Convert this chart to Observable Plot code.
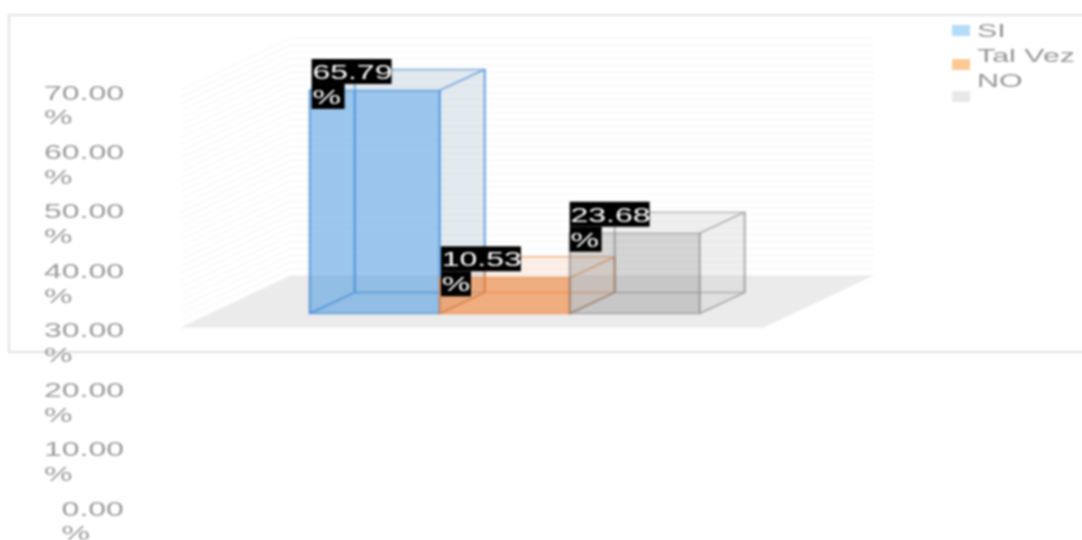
<!DOCTYPE html>
<html>
<head>
<meta charset="utf-8">
<script src="https://cdn.jsdelivr.net/npm/d3@7"></script>
<script src="https://cdn.jsdelivr.net/npm/@observablehq/plot@0.6"></script>
<style>
html,body{margin:0;padding:0;background:#fff;width:1082px;height:540px;overflow:hidden;font-family:"Liberation Sans",Arial,sans-serif}
#frame{position:absolute;left:8px;top:14px;width:1200px;height:335px;border:2px solid #e2e2e2;box-sizing:content-box}
.layer{position:absolute;left:0;top:0}
.sw{position:absolute;left:952px;width:18px;height:11px;box-sizing:border-box}
.lg{position:absolute;left:977px;font-size:19px;line-height:20px;color:#959595;transform:scaleX(1.6);transform-origin:0 50%;white-space:nowrap}
#root{position:absolute;left:0;top:0;width:1082px;height:540px;filter:blur(0.8px)}
</style>
</head>
<body>
<div id="root">
<div id="frame"></div>
<div id="chart" class="layer"></div>
<div id="axis" class="layer"></div>
<div id="legend" class="layer"></div>
</div>
<script>
const categories = ["SI", "Tal Vez", "NO"];
const values = [65.79, 10.53, 23.68];
const tickValues = [0, 10, 20, 30, 40, 50, 60, 70];
const gridValues = d3.range(0, 71, 2);
const barFront = ["rgba(50,140,220,.46)", "rgba(245,130,50,.56)", "rgba(130,130,130,.3)"];
const barStroke = ["rgba(70,140,215,.42)", "rgba(238,140,70,.38)", "rgba(130,130,130,.3)"];
const barBack = ["rgba(170,200,225,.1)", "rgba(240,160,100,.06)", "rgba(190,190,190,.1)"];
const barSide = ["rgba(190,205,215,.36)", "rgba(240,170,120,.12)", "rgba(190,190,190,.16)"];
const legendFill = ["#b4dcf8", "#fcc994", "#e8e8e8"];

const SX = 1.6;                // the whole picture is stretched horizontally
const W = 1082 / SX, H = 540;
const depthX = 0.346, depthY = 6.2;
const wall = {fx: -0.992, bx: -0.146, rfx: 3.492, rbx: 4.338, fy: -4.13, by: 11.2, top: 70.2};

const faces = [];
function face(id, fill, stroke, pts) {
  pts.concat([pts[0]]).forEach(([x, y]) => faces.push({id, fill, stroke, x, y}));
}
categories.forEach((c, i) => {
  const v = values[i], x0 = i, x1 = i + 1, dx = depthX, dy = depthY;
  const S = barStroke[i];
  face(c + "back", barBack[i], S, [[x0+dx,dy],[x1+dx,dy],[x1+dx,v+dy],[x0+dx,v+dy]]);
  face(c + "left", barBack[i], S, [[x0,0],[x0+dx,dy],[x0+dx,v+dy],[x0,v]]);
  face(c + "bottom", barBack[i], S, [[x0,0],[x1,0],[x1+dx,dy],[x0+dx,dy]]);
  face(c + "top", barSide[i], S, [[x0,v],[x1,v],[x1+dx,v+dy],[x0+dx,v+dy]]);
  face(c + "right", barSide[i], S, [[x1,0],[x1+dx,dy],[x1+dx,v+dy],[x1,v]]);
  face(c + "front", barFront[i], S, [[x0,0],[x1,0],[x1,v],[x0,v]]);
});

const floorPts = [
  {x: wall.fx, y: wall.fy}, {x: wall.rfx, y: wall.fy},
  {x: wall.rbx, y: wall.by}, {x: wall.bx, y: wall.by}, {x: wall.fx, y: wall.fy}
];
const labels = categories.map((c, i) => ({i, v: values[i]}));
const boxW = 0.615, pctW = [0.254, 0.231, 0.246];
const lh = 7.37, over = 1.77;
const labelX = [0.02, 0.015, 0.005];

const chart = Plot.plot({
  width: W, height: H, margin: 0,
  x: {domain: [0, 3], range: [309 / SX, 699 / SX], axis: null},
  y: {domain: [0, 70], range: [313, 313 - 70 * 3.39], axis: null},
  style: {background: "transparent"},
  marks: [
    // wall grid
    Plot.link(gridValues, {x1: wall.fx, x2: wall.bx, y1: d => wall.fy + d, y2: d => wall.by + d, stroke: "#f7f7f7", strokeWidth: 1}),
    Plot.link(gridValues, {x1: wall.bx, x2: wall.rbx, y1: d => wall.by + d, y2: d => wall.by + d, stroke: "#f5f5f5", strokeWidth: 1}),
    // floor
    Plot.line(floorPts, {x: "x", y: "y", fill: "#ebebeb", stroke: "none"}),
    // box faces
    Plot.line(faces, {x: "x", y: "y", z: "id", fill: "fill", stroke: "stroke", strokeWidth: 1.6, strokeLinejoin: "round"}),
    // value labels
    Plot.rect(labels, {x1: d => d.i + labelX[d.i], x2: d => d.i + labelX[d.i] + boxW, y1: d => d.v + over, y2: d => d.v + over + lh, fill: "#000"}),
    Plot.rect(labels, {x1: d => d.i + labelX[d.i], x2: d => d.i + labelX[d.i] + pctW[d.i], y1: d => d.v + over - lh, y2: d => d.v + over, fill: "#000"}),
    Plot.text(labels, {
      x: d => d.i + labelX[d.i], y: d => d.v + over, dy: -1, text: d => d.v.toFixed(2) + "\n%",
      textAnchor: "start", lineAnchor: "middle", lineHeight: 1.25,
      fontSize: 20, fill: "#fff", fontFamily: "Liberation Sans"
    })
  ]
});

const textOpts = {
  y: d => d, text: d => d.toFixed(2) + "\n%", frameAnchor: "left", textAnchor: "start",
  lineAnchor: "middle", lineHeight: 1.25, fontSize: 20, fill: "#9c9c9c", fontFamily: "Liberation Sans"
};
const axis = Plot.plot({
  width: W, height: H, margin: 0,
  x: {axis: null},
  y: {domain: [0, 70], range: [519.5, 103.5], axis: null},
  style: {background: "transparent"},
  marks: [
    Plot.text(tickValues.filter(d => d >= 10), {...textOpts, dx: 27}),
    Plot.text(tickValues.filter(d => d < 10), {...textOpts, dx: 38})
  ]
});

function stretch(svg) {
  svg.setAttribute("viewBox", `0 0 ${W} ${H}`);
  svg.setAttribute("preserveAspectRatio", "none");
  svg.setAttribute("width", 1082);
  svg.setAttribute("height", 540);
  svg.style.width = "1082px";
  svg.style.height = "540px";
  svg.style.maxWidth = "none";
  svg.style.background = "transparent";
  svg.style.overflow = "visible";
  return svg;
}
document.getElementById("chart").append(stretch(chart));
document.getElementById("axis").append(stretch(axis));

const swatchTop = [25, 59, 91], labelTop = [21, 46, 71];
const legend = document.getElementById("legend");
categories.forEach((c, i) => {
  const s = document.createElement("div");
  s.className = "sw"; s.style.top = swatchTop[i] + "px"; s.style.background = legendFill[i];
  const t = document.createElement("div");
  t.className = "lg"; t.style.top = labelTop[i] + "px"; t.textContent = c;
  legend.append(s, t);
});
</script>
</body>
</html>
